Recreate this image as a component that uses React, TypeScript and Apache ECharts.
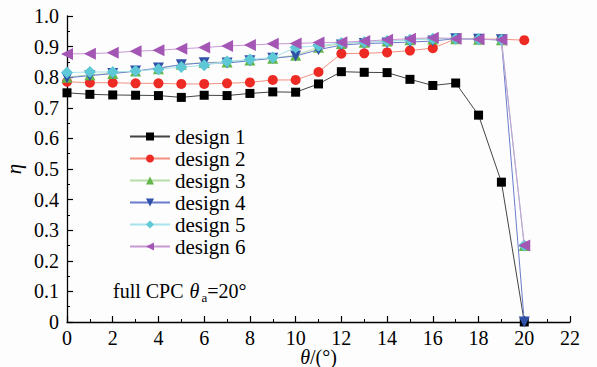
import React, { useEffect, useRef } from "react";
import * as echarts from "echarts";

const theta = [0, 1, 2, 3, 4, 5, 6, 7, 8, 9, 10, 11, 12, 13, 14, 15, 16, 17, 18, 19, 20];
const design1 = [0.749, 0.744, 0.742, 0.741, 0.740, 0.734, 0.741, 0.740, 0.747, 0.752, 0.751, 0.778, 0.818, 0.816, 0.815, 0.793, 0.773, 0.781, 0.676, 0.457, 0.0];
const design2 = [0.785, 0.782, 0.782, 0.780, 0.780, 0.778, 0.778, 0.780, 0.783, 0.791, 0.791, 0.817, 0.877, 0.878, 0.881, 0.887, 0.895, 0.925, 0.925, 0.924, 0.921];
const design3 = [0.800, 0.808, 0.812, 0.820, 0.828, 0.842, 0.848, 0.850, 0.856, 0.862, 0.872, 0.898, 0.910, 0.914, 0.918, 0.922, 0.925, 0.926, 0.924, 0.922, 0.25];
const design4 = [0.798, 0.805, 0.812, 0.820, 0.830, 0.841, 0.847, 0.846, 0.854, 0.862, 0.869, 0.890, 0.905, 0.910, 0.912, 0.915, 0.918, 0.926, 0.924, 0.922, 0.0];
const design5 = [0.815, 0.817, 0.817, 0.820, 0.826, 0.833, 0.839, 0.851, 0.858, 0.864, 0.897, 0.903, 0.912, 0.915, 0.918, 0.922, 0.926, 0.926, 0.924, 0.922, 0.25];
const design6 = [0.876, 0.877, 0.880, 0.885, 0.888, 0.893, 0.897, 0.902, 0.905, 0.909, 0.910, 0.913, 0.914, 0.918, 0.922, 0.926, 0.929, 0.926, 0.924, 0.922, 0.25];
const seriesNames = ["design 1", "design 2", "design 3", "design 4", "design 5", "design 6"];

const FONT = "'Liberation Serif', serif";

export default function App() {
  const ref = useRef<HTMLDivElement>(null);
  useEffect(() => {
    document.body.style.margin = "0";
    const chart = echarts.init(ref.current!, null, { renderer: "svg" });
    const pairs = (ys: number[]) => theta.map((x, i) => [x, ys[i]]);
    const specs = [
      { data: design1, symbol: "rect", size: 9, rot: 0, mk: "#000000", ln: "#444444" },
      { data: design2, symbol: "circle", size: 10, rot: 0, mk: "#ee2a24", ln: "#f29080" },
      { data: design3, symbol: "triangle", size: 11, rot: 0, mk: "#62b64a", ln: "#b8dca8" },
      { data: design4, symbol: "triangle", size: 11, rot: 180, mk: "#2f52a8", ln: "#6a7ccc" },
      { data: design5, symbol: "diamond", size: 12, rot: 0, mk: "#5ec8d6", ln: "#a8e2ea" },
      { data: design6, symbol: "triangle", size: 12, rot: 90, mk: "#a456b4", ln: "#c89ad4" },
    ];
    const richT = { t: { fontFamily: FONT, fontSize: 20, color: "#000" } };
    const label = { color: "#000", fontFamily: FONT, fontSize: 20, rich: richT };
    const axisCommon = {
      axisLine: { show: true, lineStyle: { color: "#000", width: 1.3 } },
      axisTick: { show: true, inside: true, length: 6, lineStyle: { color: "#000", width: 1.2 } },
      minorTick: { show: true, splitNumber: 2, length: 3, lineStyle: { color: "#000", width: 1 } },
      splitLine: { show: false },
      nameMoveOverlap: false,
    };
    chart.setOption({
      animation: false,
      backgroundColor: "#fdfdfd",
      textStyle: { fontFamily: FONT, color: "#000" },
      grid: { left: 67, right: 27, top: 16, bottom: 45, outerBoundsMode: "none", containLabel: false },
      legend: {
        orient: "vertical",
        left: 124,
        top: 121,
        itemWidth: 40,
        itemHeight: 10,
        itemGap: 1,
        textStyle: { fontFamily: FONT, fontSize: 21, color: "#000" },
        data: seriesNames,
      },
      xAxis: {
        type: "value",
        min: 0,
        max: 22,
        interval: 2,
        ...axisCommon,
        axisLabel: { ...label, margin: 6, formatter: (v: number) => `{t|${v}}` },
        name: "{i|θ}/(°)",
        nameLocation: "middle",
        nameGap: 25,
        nameTextStyle: {
          color: "#000",
          fontFamily: FONT,
          fontSize: 20,
          rich: { i: { fontStyle: "italic", fontFamily: FONT, fontSize: 20, color: "#000" } },
        },
      },
      yAxis: {
        type: "value",
        min: 0,
        max: 1,
        interval: 0.1,
        ...axisCommon,
        axisLabel: {
          ...label,
          margin: 8,
          formatter: (v: number) => `{t|${v === 0 ? "0" : v.toFixed(1)}}`,
        },
        name: "η",
        nameLocation: "middle",
        nameGap: 43,
        nameRotate: 90,
        nameTextStyle: { color: "#000", fontFamily: FONT, fontSize: 21, fontStyle: "italic" },
      },
      graphic: [
        {
          type: "text",
          left: 113,
          top: 278,
          style: {
            text: "full CPC {i|θ}{s|a}{n|=20°}",
            fontFamily: FONT,
            fontSize: 20,
            lineHeight: 26,
            fill: "#000",
            rich: {
              n: { fontFamily: FONT, fontSize: 20, lineHeight: 26, fill: "#000" },
              i: { fontStyle: "italic", fontFamily: FONT, fontSize: 20, lineHeight: 26, fill: "#000", padding: [0, 2, 0, 1] },
              s: { fontFamily: FONT, fontSize: 13, lineHeight: 12, fill: "#000", verticalAlign: "bottom" },
            },
          },
        },
      ],
      series: specs.map((s, k) => ({
        name: seriesNames[k],
        type: "line",
        data: pairs(s.data),
        symbol: s.symbol,
        symbolSize: s.size,
        symbolRotate: s.rot,
        showAllSymbol: true,
        lineStyle: { color: s.ln, width: 1 },
        itemStyle: { color: s.mk },
        z: 2 + k,
      })),
    });
    return () => chart.dispose();
  }, []);
  return <div ref={ref} style={{ width: 597, height: 367 }} />;
}
